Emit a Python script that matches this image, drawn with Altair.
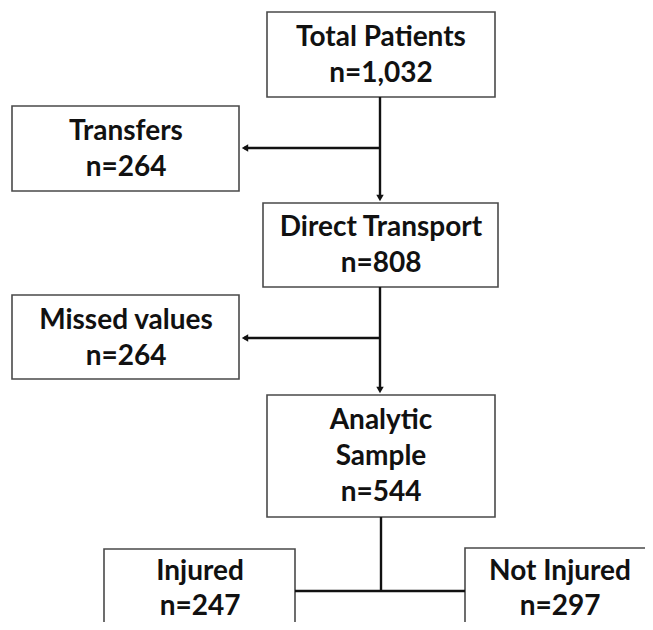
import altair as alt
import pandas as pd

# ---- content ----
box_titles = ["Total Patients", "Transfers", "Direct Transport", "Missed values",
              "Analytic\nSample", "Injured", "Not Injured"]
box_counts = ["1,032", "264", "808", "264", "544", "247", "297"]

# ---- layout (reference pixel space) ----
box_x1 = [267, 12, 263, 12, 267, 104, 465]
box_x2 = [495, 239, 498, 239, 495, 295, 700]
box_y1 = [12, 106, 203, 295, 395, 549, 548]
box_y2 = [97, 191, 287, 379, 517, 700, 700]
text_x = [381, 126, 381, 126, 381, 200, 560]
text_y0 = [38, 132, 228, 321, 421, 572, 572]
line_gaps = [36, 36, 36, 36, 36, 35, 35]

boxes = pd.DataFrame({"x1": box_x1, "x2": box_x2, "y1": box_y1, "y2": box_y2})

rows = []
for t, c, tx, ty, g in zip(box_titles, box_counts, text_x, text_y0, line_gaps):
    parts = t.split("\n") + ["n=" + c]
    for i, p in enumerate(parts):
        rows.append({"label": p, "x": tx, "y": ty + i * g})
texts = pd.DataFrame(rows)

# connector segments
seg_x1 = [380, 380, 380, 380, 381, 295]
seg_x2 = [380, 244, 380, 244, 381, 465]
seg_y1 = [97, 148, 287, 338, 517, 591]
seg_y2 = [198, 148, 390, 338, 591, 591]
segs = pd.DataFrame({"x1": seg_x1, "x2": seg_x2, "y1": seg_y1, "y2": seg_y2})

heads = pd.DataFrame({
    "x": [380, 245, 380, 245],
    "y": [198, 148, 390, 338],
    "shape": ["triangle-down", "triangle-left", "triangle-down", "triangle-left"],
})

W, H = 637, 614
xs = alt.Scale(domain=[8, 8 + W], nice=False, zero=False)
ys = alt.Scale(domain=[8, 8 + H], nice=False, zero=False, reverse=True)

rects = alt.Chart(boxes).mark_rect(fill="white", stroke="#4a4a4a", strokeWidth=1.6, clip=True).encode(
    x=alt.X("x1:Q", scale=xs, axis=None), x2="x2:Q",
    y=alt.Y("y1:Q", scale=ys, axis=None), y2="y2:Q",
)

rules = alt.Chart(segs).mark_rule(color="#111111", strokeWidth=2.4).encode(
    x=alt.X("x1:Q", scale=xs, axis=None), x2="x2:Q",
    y=alt.Y("y1:Q", scale=ys, axis=None), y2="y2:Q",
)

arrows = alt.Chart(heads).mark_point(filled=True, color="#111111", size=55, opacity=1).encode(
    x=alt.X("x:Q", scale=xs, axis=None),
    y=alt.Y("y:Q", scale=ys, axis=None),
    shape=alt.Shape("shape:N", scale=None),
)

labels = alt.Chart(texts).mark_text(font="Lato", fontWeight="bold", fontSize=28,
                                    color="#111111", baseline="middle", align="center").encode(
    x=alt.X("x:Q", scale=xs, axis=None),
    y=alt.Y("y:Q", scale=ys, axis=None),
    text="label:N",
)

chart = alt.layer(rects, rules, arrows, labels).properties(
    width=W, height=H, padding=0, autosize=alt.AutoSizeParams(type="none")
).configure_view(strokeWidth=0)

chart.save("out.html", embed_options={"renderer": "svg", "actions": False})
